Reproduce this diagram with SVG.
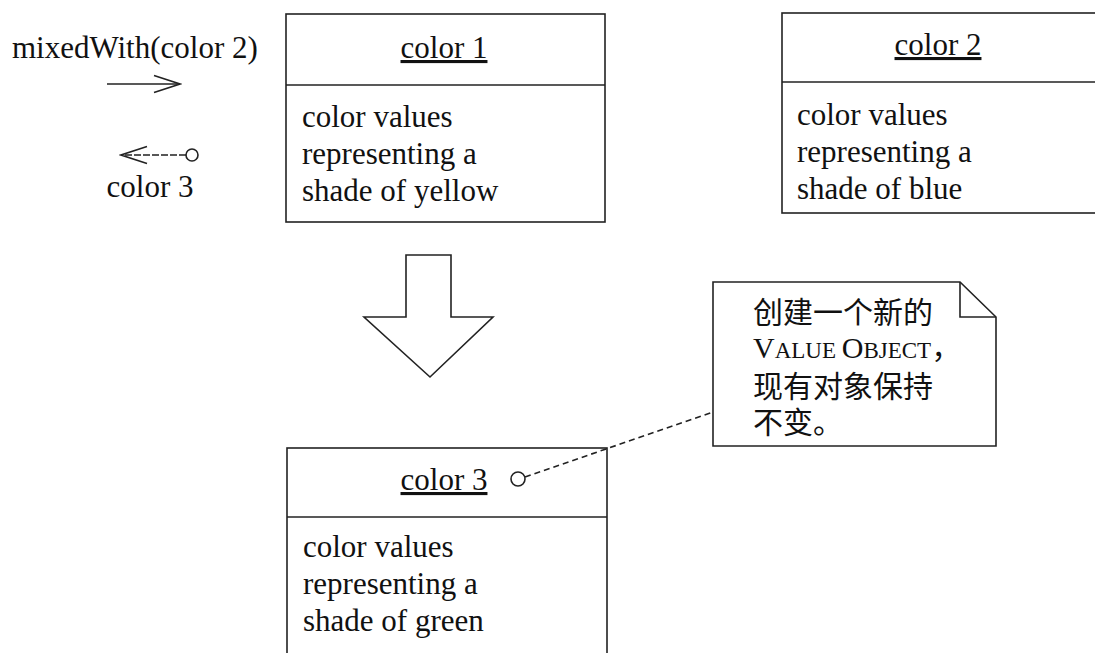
<svg xmlns="http://www.w3.org/2000/svg" width="1095" height="653" viewBox="0 0 1095 653">
  <defs>
    <style>
      .box { fill: #fff; stroke: #222; stroke-width: 1.6; }
      .ln { fill: none; stroke: #222; stroke-width: 1.6; }
      .t { font-family: "Liberation Serif", "Times New Roman", serif; font-size: 31px; fill: #111; }
      .title { text-anchor: middle; text-decoration: underline; }
      .cjk { font-family: "Liberation Serif", "Noto Sans CJK SC", serif; font-size: 30px; fill: #111; }
    </style>
    <marker id="open" viewBox="0 0 30 20" refX="28" refY="10" markerWidth="30" markerHeight="20" markerUnits="userSpaceOnUse" orient="auto">
      <path d="M2,1.5 L28,10 L2,18.5" fill="none" stroke="#222" stroke-width="1.6"/>
    </marker>
  </defs>
  <rect width="1095" height="653" fill="#fff"/>

  <g id="message">
    <text class="t" x="12" y="58">mixedWith(color 2)</text>
    <line class="ln" x1="107" y1="84" x2="180" y2="84" marker-end="url(#open)"/>
    <line class="ln" x1="186" y1="155" x2="121" y2="155" stroke-dasharray="7 2" marker-end="url(#open)"/>
    <circle class="ln" cx="192" cy="155" r="6" fill="#fff"/>
    <text class="t" x="150" y="197" text-anchor="middle">color 3</text>
  </g>

  <g id="color1">
    <rect class="box" x="286" y="14" width="319" height="208"/>
    <line class="ln" x1="286" y1="85" x2="605" y2="85"/>
    <text class="t title" x="444" y="58">color 1</text>
    <text class="t" x="302" y="127">color values</text>
    <text class="t" x="302" y="164">representing a</text>
    <text class="t" x="302" y="201">shade of yellow</text>
  </g>

  <g id="color2">
    <rect class="box" x="782" y="13" width="330" height="200"/>
    <line class="ln" x1="782" y1="82" x2="1100" y2="82"/>
    <text class="t title" x="938" y="55">color 2</text>
    <text class="t" x="797" y="125">color values</text>
    <text class="t" x="797" y="162">representing a</text>
    <text class="t" x="797" y="199">shade of blue</text>
  </g>

  <g id="transform-arrow">
    <path class="ln" fill="#fff" d="M406,255 L451,255 L451,317 L493,317 L430,377 L364,317 L406,317 Z"/>
  </g>

  <g id="color3">
    <rect class="box" x="287" y="448" width="320" height="215"/>
    <line class="ln" x1="287" y1="517" x2="607" y2="517"/>
    <text class="t title" x="444" y="490">color 3</text>
    <text class="t" x="303" y="557">color values</text>
    <text class="t" x="303" y="594">representing a</text>
    <text class="t" x="303" y="631">shade of green</text>
  </g>

  <g id="note">
    <path class="box" d="M713,282 L960,282 L996,317 L996,446 L713,446 Z"/>
    <path class="ln" d="M960,282 L960,317 L996,317"/>
    <text class="cjk" x="753" y="323">创建一个新的</text>
    <text class="t" x="753" y="358"><tspan font-size="30">V</tspan><tspan font-size="23">ALUE </tspan><tspan font-size="30">O</tspan><tspan font-size="23">BJECT</tspan><tspan class="cjk" font-size="26">，</tspan></text>
    <text class="cjk" x="753" y="397">现有对象保持</text>
    <text class="cjk" x="753" y="433">不变。</text>
  </g>

  <g id="connectors">
    <line class="ln" x1="525" y1="477" x2="713" y2="412" stroke-dasharray="6 4"/>
    <circle class="ln" cx="518" cy="479" r="7" fill="#fff"/>
  </g>
</svg>
